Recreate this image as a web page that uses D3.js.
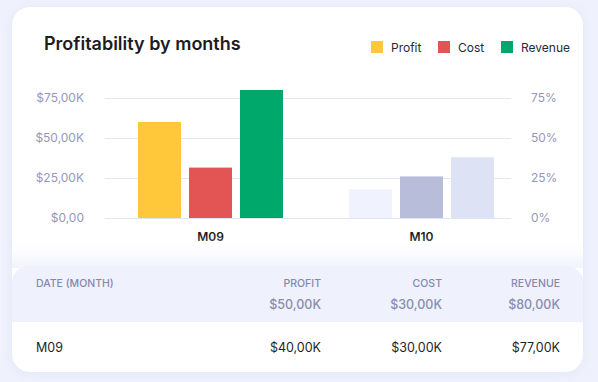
<!DOCTYPE html>
<html>
<head>
<meta charset="utf-8">
<script src="https://cdn.jsdelivr.net/npm/d3@7"></script>
<style>
  html, body { margin: 0; padding: 0; background: #eff2fc; }
  svg { display: block; font-family: Inter, "Noto Sans", sans-serif; }
</style>
</head>
<body>
<svg id="chart" width="598" height="382"></svg>
<script>
const categories = ["M09", "M10"];
const seriesNames = ["Profit", "Cost", "Revenue"];
const seriesColors = ["#FFC83A", "#E35454", "#00A96B"];
const dimColors = ["#F0F3FE", "#B8BDD9", "#DDE3F4"];
const m09Values = [60, 31.5, 80];      // $K
const m10Values = [18, 26, 38];        // %
const leftTicks = [0, 25, 50, 75];
const leftTickLabels = ["$0,00", "$25,00K", "$50,00K", "$75,00K"];
const rightTickLabels = ["0%", "25%", "50%", "75%"];
const tableColumns = ["DATE (MONTH)", "PROFIT", "COST", "REVENUE"];
const tableTotals = ["", "$50,00K", "$30,00K", "$80,00K"];
const tableRow = ["M09", "$40,00K", "$30,00K", "$77,00K"];

const svg = d3.select("#chart");
const defs = svg.append("defs");
const fade = defs.append("linearGradient").attr("id", "fade").attr("x1", 0).attr("x2", 0).attr("y1", 0).attr("y2", 1);
fade.append("stop").attr("offset", "0%").attr("stop-color", "#ffffff").attr("stop-opacity", 0);
fade.append("stop").attr("offset", "100%").attr("stop-color", "#f1f3fc").attr("stop-opacity", 1);
const shadow = defs.append("filter").attr("id", "shadow").attr("x", "-10%").attr("y", "-10%").attr("width", "120%").attr("height", "120%");
shadow.append("feDropShadow").attr("dx", 0).attr("dy", 2).attr("stdDeviation", 6).attr("flood-color", "#c9d0ee").attr("flood-opacity", 0.35);

// card
svg.append("rect").attr("x", 12).attr("y", 7).attr("width", 571).attr("height", 365)
  .attr("rx", 18).attr("fill", "#ffffff").attr("filter", "url(#shadow)");

// title
svg.append("text").attr("x", 44).attr("y", 50).attr("font-size", 18).attr("font-weight", 600)
  .attr("fill", "#1c1c22").text("Profitability by months");

// legend
const legendX = [371, 438, 501];
const lg = svg.append("g");
seriesNames.forEach((s, i) => {
  lg.append("rect").attr("x", legendX[i]).attr("y", 41).attr("width", 12).attr("height", 12).attr("fill", seriesColors[i]);
  lg.append("text").attr("x", legendX[i] + 20).attr("y", 51.5).attr("font-size", 12).attr("fill", "#2a2a33").text(s);
});

// scales
const y = d3.scaleLinear().domain([0, 75]).range([218, 98]);
const yR = d3.scaleLinear().domain([0, 0.75]).range([218, 98]);
const x0 = d3.scaleBand().domain(categories).range([105, 527]).paddingInner(0).paddingOuter(0);
const x1 = d3.scaleBand().domain(seriesNames).range([33, 178]).paddingInner(8 / 51).paddingOuter(0);

// grid
svg.append("g").selectAll("line").data(leftTicks).join("line")
  .attr("x1", 105).attr("x2", 511)
  .attr("y1", d => y(d) + 0.5).attr("y2", d => y(d) + 0.5)
  .attr("stroke", "#e1e6f4").attr("stroke-width", 1);

// left axis
const leftAxis = d3.axisLeft(y).tickValues(leftTicks).tickSize(0).tickPadding(0)
  .tickFormat((d, i) => leftTickLabels[i]);
const la = svg.append("g").attr("transform", "translate(84,0)").call(leftAxis);
la.select(".domain").remove();
la.selectAll("text").attr("font-size", 12).attr("fill", "#9597b9").attr("font-family", "Inter, sans-serif");

// right axis
const rightAxis = d3.axisRight(yR).tickValues([0, 0.25, 0.5, 0.75]).tickSize(0).tickPadding(0)
  .tickFormat((d, i) => rightTickLabels[i]);
const ra = svg.append("g").attr("transform", "translate(531,0)").call(rightAxis);
ra.select(".domain").remove();
ra.selectAll("text").attr("font-size", 12).attr("fill", "#9597b9").attr("font-family", "Inter, sans-serif");

// bars
const data = [
  { cat: "M09", values: m09Values, colors: seriesColors, scale: y },
  { cat: "M10", values: m10Values.map(v => v / 100), colors: dimColors, scale: yR }
];
data.forEach(g => {
  const grp = svg.append("g").attr("transform", `translate(${x0(g.cat)},0)`);
  grp.selectAll("rect").data(g.values).join("rect")
    .attr("x", (d, i) => x1(seriesNames[i]))
    .attr("width", x1.bandwidth())
    .attr("y", d => g.scale(d))
    .attr("height", d => g.scale(0) - g.scale(d))
    .attr("fill", (d, i) => g.colors[i]);
});

// x labels
const xAxis = d3.axisBottom(x0).tickSize(0).tickPadding(0);
const xa = svg.append("g").attr("transform", "translate(0,232.5)").call(xAxis);
xa.select(".domain").remove();
xa.selectAll("text").attr("font-size", 12).attr("font-weight", 600).attr("fill", "#1c1c22")
  .attr("font-family", "Inter, sans-serif")
  .attr("transform", (d) => `translate(${x1.range()[0] + (x1.range()[1] - x1.range()[0]) / 2 - x0.bandwidth() / 2},0)`);

// fade above table header
svg.append("rect").attr("x", 12).attr("y", 236).attr("width", 571).attr("height", 32).attr("fill", "url(#fade)");

// table header background
const hdr = d3.path();
const hx = 12, hy = 266, hw = 571, hh = 56, r = 16;
hdr.moveTo(hx, hy + hh);
hdr.lineTo(hx, hy + r);
hdr.arcTo(hx, hy, hx + r, hy, r);
hdr.lineTo(hx + hw - r, hy);
hdr.arcTo(hx + hw, hy, hx + hw, hy + r, r);
hdr.lineTo(hx + hw, hy + hh);
hdr.closePath();
svg.append("path").attr("d", hdr.toString()).attr("fill", "#eff2fd");

// table text
const colX = [36, 321, 442, 560];
const colAnchor = ["start", "end", "end", "end"];
tableColumns.forEach((c, i) => {
  svg.append("text").attr("x", colX[i]).attr("y", 287).attr("text-anchor", colAnchor[i])
    .attr("font-size", 10.5).attr("font-weight", 500).attr("fill", "#8587ad").text(c);
  if (tableTotals[i]) {
    svg.append("text").attr("x", colX[i]).attr("y", 309).attr("text-anchor", colAnchor[i])
      .attr("font-size", 12.5).attr("font-weight", 500).attr("fill", "#8a8cb0").text(tableTotals[i]);
  }
  svg.append("text").attr("x", colX[i]).attr("y", 352).attr("text-anchor", colAnchor[i])
    .attr("font-size", 12.5).attr("fill", "#1f1f26").text(tableRow[i]);
});
</script>
</body>
</html>
